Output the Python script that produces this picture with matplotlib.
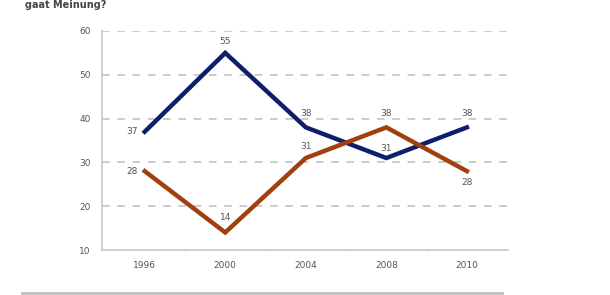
import numpy as np
import matplotlib.pyplot as plt

# donnees
annees = ["1996", "2000", "2004", "2008", "2010"]
bleu = [37, 55, 38, 31, 38]
orange = [28, 14, 31, 38, 28]

# position des etiquettes (decalage en points)
pos_bleu = [(-9, 0), (0, 8), (0, 10), (0, 7), (0, 10)]
pos_orange = [(-9, 0), (0, 11), (0, 8), (0, 10), (0, -8)]

c_bleu = '#0d1f6b'
c_orange = '#a1400f'
gris = '#555555'

fig = plt.figure(figsize=(6.1, 2.95), dpi=100)
ax = fig.add_axes([102 / 610, 45 / 295, 406 / 610, 219 / 295])

x = np.arange(len(annees))
ax.plot(x, bleu, color=c_bleu, linewidth=3.2, solid_joinstyle='miter', zorder=3)
ax.plot(x, orange, color=c_orange, linewidth=3.2, solid_joinstyle='miter', zorder=3)

for xi, v, d in zip(x, bleu, pos_bleu):
    ax.annotate(str(v), (xi, v), xytext=d, textcoords='offset points',
                ha='center', va='center', fontsize=6.5, color=gris)
for xi, v, d in zip(x, orange, pos_orange):
    ax.annotate(str(v), (xi, v), xytext=d, textcoords='offset points',
                ha='center', va='center', fontsize=6.5, color=gris)

ax.set_xlim(-0.53, 4.51)
ax.set_ylim(10, 60)
ax.set_yticks([10, 20, 30, 40, 50, 60])
ax.set_xticks(x)
ax.set_xticklabels(annees)
ax.set_xticks(x[:-1] + 0.5, minor=True)
ax.tick_params(axis='both', which='major', length=0, labelsize=6.5, labelcolor=gris, pad=8)
ax.tick_params(axis='x', which='minor', length=2, color='#bbbbbb', direction='inout')

for yv in [20, 30, 40, 50, 60]:
    ax.axhline(yv, color='#bdbdbd', linewidth=1.1, linestyle=(0, (5, 5)), zorder=1)

for s in ['top', 'right']:
    ax.spines[s].set_visible(False)
for s in ['left', 'bottom']:
    ax.spines[s].set_color('#c8c8c8')
    ax.spines[s].set_linewidth(1.2)

# titre en haut de l'image
fig.text(25 / 610, 0.999, "gaat Meinung?", fontsize=7, fontweight='bold',
         color='#444444', va='top', ha='left')

# ligne de separation en bas
fig.add_artist(plt.Line2D([22 / 610, 502 / 610], [2 / 295, 2 / 295],
                          color='#c0c0c0', linewidth=2))

plt.savefig('out.png', dpi=100)
